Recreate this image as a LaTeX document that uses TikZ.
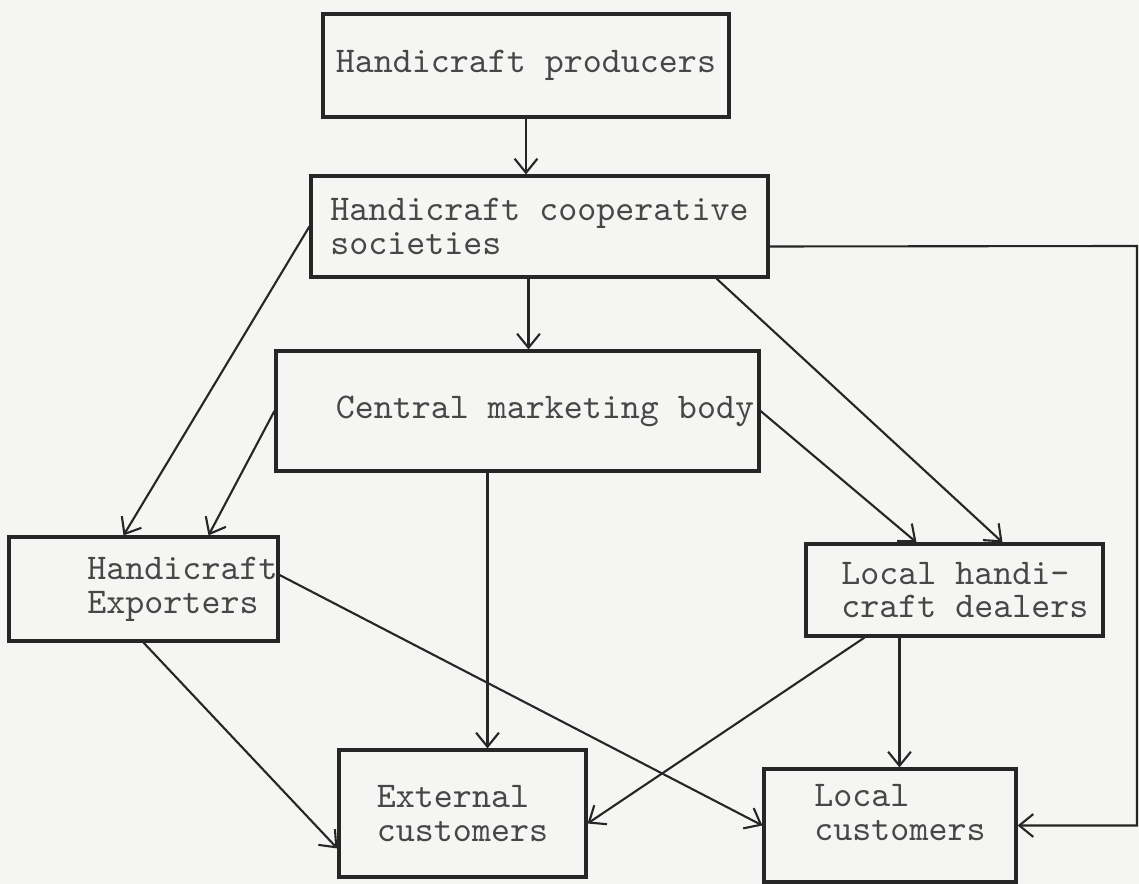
\documentclass[tikz,border=0pt]{standalone}
\usepackage{fontspec}
\usepackage{tikz}
\usetikzlibrary{arrows.meta,positioning}
\definecolor{paper}{RGB}{245,245,243}
\definecolor{ink}{RGB}{38,38,38}

\begin{document}
\begin{tikzpicture}[>={Straight Barb[length=4pt,width=6.5pt]},
  flowbox/.style={draw=ink,line width=0.9pt,align=left,inner sep=0pt,font=\ttfamily\fontsize{10.3}{9.6}\selectfont,text=black!72},
  flowline/.style={draw=ink,line width=0.6pt,->}]
\fill[paper] (0,0) rectangle (11.39,-8.84);
\useasboundingbox (0,0) rectangle (11.39,-8.84);
% boxes
\node[flowbox,minimum width=4.06cm,minimum height=1.03cm] (hc_prod) at (5.26,-0.655) {Handicraft producers};
\node[flowbox,minimum width=4.57cm,minimum height=1.01cm] (hc_coop) at (5.395,-2.265) {Handicraft cooperative\\societies};
\node[flowbox,minimum width=4.83cm,minimum height=1.20cm] (hc_cmb) at (5.175,-4.11) {\hspace*{0.55cm}Central marketing body};
\node[flowbox,minimum width=2.69cm,minimum height=1.04cm] (hc_exp) at (1.435,-5.89) {\hspace*{0.78cm}Handicraft\\\hspace*{0.78cm}Exporters};
\node[flowbox,minimum width=2.97cm,minimum height=0.92cm] (hc_dealer) at (9.545,-5.90) {\hspace*{0.21cm}Local handi-\\\hspace*{0.21cm}craft dealers};
\node[flowbox,minimum width=2.47cm,minimum height=1.27cm] (hc_ext) at (4.625,-8.135) {External\\customers};
\node[flowbox,minimum width=2.52cm,minimum height=1.13cm] (hc_loc) at (8.9,-8.255) {\hspace*{0.2cm}Local\\\hspace*{0.2cm}customers\rule[-0.26cm]{0pt}{0.26cm}};
% connectors
\coordinate (hc_coop_out) at ([xshift=-0.11cm]hc_coop.south);
\coordinate (hc_cmb_out) at ([xshift=-0.3cm]hc_cmb.south);
\coordinate (hc_dealer_out) at ([xshift=-0.55cm]hc_dealer.south);
\coordinate (hc_rim) at (11.37,-2.46);
\draw[flowline] (hc_prod.south) -- (hc_prod.south |- hc_coop.north);
\draw[flowline] (hc_coop_out) -- (hc_coop_out |- hc_cmb.north);
\draw[flowline] (hc_coop.west) -- ([xshift=-0.2cm]hc_exp.north);
\draw[flowline] ([xshift=1.77cm]hc_coop.south) -- ([xshift=0.48cm]hc_dealer.north);
\draw[flowline] (hc_cmb.west) -- ([xshift=0.65cm]hc_exp.north);
\draw[flowline] (hc_cmb.east) -- ([xshift=-0.38cm]hc_dealer.north);
\draw[flowline] (hc_cmb_out) -- (hc_cmb_out |- hc_ext.north);
\draw[flowline] (hc_exp.south) -- ([yshift=-0.35cm]hc_ext.west);
\draw[flowline] ([yshift=0.14cm]hc_exp.east) -- (hc_loc.west);
\draw[flowline] ([xshift=-0.9cm]hc_dealer.south) -- ([yshift=-0.1cm]hc_ext.east);
\draw[flowline] (hc_dealer_out) -- (hc_dealer_out |- hc_loc.north);
\draw[flowline] ([yshift=-0.2cm]hc_coop.east) -- (hc_rim) -- (hc_rim |- hc_loc.east) -- (hc_loc.east);
\end{tikzpicture}
\end{document}
